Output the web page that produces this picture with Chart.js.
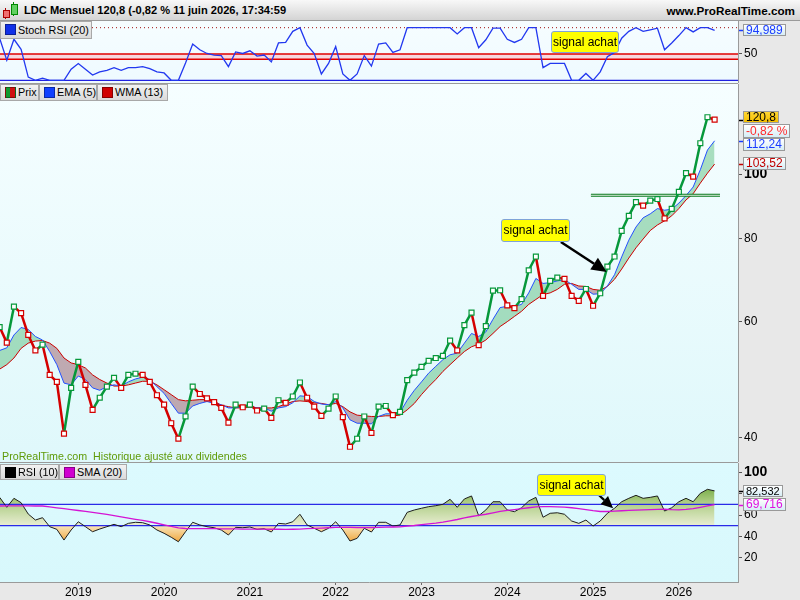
<!DOCTYPE html>
<html><head><meta charset="utf-8">
<script src="https://cdn.jsdelivr.net/npm/chart.js@4/dist/chart.umd.min.js"></script>
<style>
body{margin:0;width:800px;height:600px;position:relative;overflow:hidden;background:#e8e8e8;font-family:"Liberation Sans",Arial,sans-serif;font-size:12px;color:#000;}
canvas{position:absolute;left:0;}
#title{position:absolute;left:0;top:0;width:800px;height:20px;background:linear-gradient(#f8f8f8,#d4d4d4);border-bottom:1px solid #9a9a9a;}
#title .t{position:absolute;left:24px;top:4px;font-weight:bold;font-size:11.1px;}
#title .w{position:absolute;right:5px;top:4px;font-weight:bold;font-size:11.7px;}
.sep{position:absolute;left:0;width:738px;height:1px;background:#9a9a9a;}
.lg{position:absolute;box-sizing:border-box;height:17px;border:1px solid #a8a8a8;background:linear-gradient(#f2f2f2,#dadada);font-size:10.8px;line-height:15px;padding-left:17px;white-space:nowrap;}
.lg i{position:absolute;left:4px;top:2px;width:9px;height:9px;border:1px solid rgba(0,0,0,0.35);}
.sig{position:absolute;box-sizing:border-box;background:#ffff00;border:1px solid #7fa3d8;border-radius:3px;font-size:12px;text-align:center;line-height:20px;}
.vb{position:absolute;left:743px;box-sizing:border-box;border:1px solid #999;background:linear-gradient(#ffffff,#d6edf5);font-size:12px;line-height:10px;padding:0 2px;white-space:nowrap;}
#note{position:absolute;left:2px;top:450px;font-size:10.7px;color:#5f9a08;white-space:nowrap;}
</style></head>
<body>
<div id="title">
  <div style="position:absolute;left:5px;top:8px;width:1px;height:11px;background:#a00;"></div>
  <div style="position:absolute;left:3px;top:10px;width:5px;height:6px;background:#f07070;border:1px solid #a00;"></div>
  <div style="position:absolute;left:13px;top:2px;width:1px;height:14px;background:#080;"></div>
  <div style="position:absolute;left:11px;top:4px;width:5px;height:9px;background:#60d060;border:1px solid #080;"></div>
  <div class="t">LDC Mensuel 120,8 (-0,82 % 11 juin 2026, 17:34:59</div>
  <div class="w">www.ProRealTime.com</div>
</div>
<canvas id="cStoch" width="800" height="62" style="top:21px;width:800px;height:62px;"></canvas>
<div class="sep" style="top:83px;"></div>
<canvas id="cMain" width="800" height="378" style="top:84px;width:800px;height:378px;"></canvas>
<div class="sep" style="top:462px;"></div>
<canvas id="cRsi" width="800" height="137" style="top:463px;width:800px;height:137px;"></canvas>

<div class="lg" style="left:0;top:21px;width:92px;height:18px;line-height:16px;"><i style="background:#1030e8;"></i>Stoch RSI (20)</div>
<div class="lg" style="left:0;top:84px;width:39px;"><i style="background:linear-gradient(90deg,#109a30 50%,#d01010 50%);"></i>Prix</div>
<div class="lg" style="left:39px;top:84px;width:58px;"><i style="background:#1040ff;"></i>EMA (5)</div>
<div class="lg" style="left:97px;top:84px;width:71px;"><i style="background:#d00000;"></i>WMA (13)</div>
<div class="lg" style="left:0;top:464px;width:59px;height:16px;line-height:14px;"><i style="background:#000;"></i>RSI (10)</div>
<div class="lg" style="left:59px;top:464px;width:68px;height:16px;line-height:14px;"><i style="background:#d000d0;"></i>SMA (20)</div>

<div class="sig" style="left:551px;top:31px;width:68px;height:22px;">signal achat</div>
<div class="sig" style="left:501px;top:219px;width:69px;height:23px;">signal achat</div>
<div class="sig" style="left:537px;top:474px;width:69px;height:22px;">signal achat</div>

<div class="vb" style="top:24px;height:12px;color:#1a3cff;">94,989</div>
<div class="vb" style="top:111px;height:12px;background:linear-gradient(#ffd633,#f5c000);">120,8</div>
<div class="vb" style="top:124px;height:14px;line-height:12px;color:#ff2a2a;">-0,82 %</div>
<div class="vb" style="top:138px;height:13px;line-height:11px;color:#1a3cff;">112,24</div>
<div class="vb" style="top:157px;height:13px;line-height:11px;color:#c00000;">103,52</div>
<div class="vb" style="top:485px;height:12px;font-size:11px;">82,532</div>
<div class="vb" style="top:498px;height:13px;line-height:11px;color:#e010e0;">69,716</div>

<div id="note">ProRealTime.com&nbsp; Historique ajusté aux dividendes</div>

<script>
// ---------------- DATA ----------------
const months = [
 '2018-02','2018-03','2018-04','2018-05','2018-06','2018-07','2018-08','2018-09','2018-10','2018-11','2018-12',
 '2019-01','2019-02','2019-03','2019-04','2019-05','2019-06','2019-07','2019-08','2019-09','2019-10','2019-11','2019-12',
 '2020-01','2020-02','2020-03','2020-04','2020-05','2020-06','2020-07','2020-08','2020-09','2020-10','2020-11','2020-12',
 '2021-01','2021-02','2021-03','2021-04','2021-05','2021-06','2021-07','2021-08','2021-09','2021-10','2021-11','2021-12',
 '2022-01','2022-02','2022-03','2022-04','2022-05','2022-06','2022-07','2022-08','2022-09','2022-10','2022-11','2022-12',
 '2023-01','2023-02','2023-03','2023-04','2023-05','2023-06','2023-07','2023-08','2023-09','2023-10','2023-11','2023-12',
 '2024-01','2024-02','2024-03','2024-04','2024-05','2024-06','2024-07','2024-08','2024-09','2024-10','2024-11','2024-12',
 '2025-01','2025-02','2025-03','2025-04','2025-05','2025-06','2025-07','2025-08','2025-09','2025-10','2025-11','2025-12',
 '2026-01','2026-02','2026-03','2026-04','2026-05','2026-06'
];
const price = [
 58.8,55.7,63.1,61.7,57.2,54.2,55.3,49.8,48.6,40.6,47.6,
 52.1,48.1,44.1,46.0,47.8,49.3,47.6,49.8,50.0,49.8,48.6,46.4,
 44.9,42.1,39.9,43.1,47.8,46.6,45.9,45.3,44.4,42.2,44.9,44.5,
 44.9,44.0,44.3,42.9,45.6,45.2,46.2,48.5,46.0,44.6,43.2,44.3,
 46.2,43.0,38.8,39.9,43.1,40.7,44.6,44.7,43.3,43.8,48.9,50.2,
 51.2,52.3,52.8,53.2,56.1,54.2,59.2,61.8,55.2,59.0,66.7,66.8,
 63.4,62.8,64.8,71.6,75.1,65.5,69.0,69.8,69.5,65.5,64.4,67.1,
 63.3,66.1,72.5,75.1,82.1,86.5,90.7,89.6,91.2,91.7,85.7,88.6,
 94.0,100.3,99.1,111.3,121.8,120.8
];
const ema5 = [
 54.2,54.7,57.2,58.7,58.3,56.9,56.2,54.0,51.6,48.4,48.1,
 49.6,49.0,47.6,47.2,47.8,48.1,47.9,48.6,49.1,49.4,49.0,47.8,
 46.7,45.1,43.6,43.6,44.7,45.1,45.4,45.1,44.9,44.4,44.4,44.6,
 44.7,44.4,44.4,43.9,44.4,44.6,45.2,46.3,46.2,45.4,45.0,44.9,
 45.4,44.4,42.6,42.1,42.1,42.0,43.1,43.5,43.5,43.7,45.6,47.2,
 48.6,50.1,51.3,52.5,53.4,53.7,55.6,57.5,56.9,57.8,60.4,62.9,
 63.2,63.2,63.6,66.2,69.6,68.4,68.6,69.0,69.3,68.2,67.0,67.0,
 65.9,66.0,67.8,70.5,75.0,79.5,83.2,85.9,87.1,88.7,88.2,88.5,
 90.4,92.8,95.6,101.5,108.7,112.24
];
const wma13 = [
 50.8,51.6,52.8,54.6,55.6,56.0,56.1,55.6,54.6,52.8,51.9,
 51.6,51.0,49.8,49.0,48.4,47.9,47.9,48.1,48.4,48.7,48.7,48.1,
 47.3,46.5,45.7,45.5,45.6,45.7,45.7,45.5,44.8,44.6,44.4,44.4,
 44.5,44.4,44.4,44.4,44.6,45.0,45.4,45.5,45.4,45.2,45.1,44.9,
 45.1,44.6,43.8,43.3,43.2,43.1,43.1,43.2,43.2,43.3,44.1,45.1,
 46.5,47.8,49.0,50.4,51.6,52.8,54.0,54.9,55.4,56.2,57.5,58.9,
 59.9,61.0,62.1,63.6,64.7,65.8,66.2,67.0,68.2,68.4,67.8,67.7,
 67.0,66.8,67.7,69.4,71.9,74.7,77.4,79.8,82.2,83.8,85.0,86.5,
 88.7,91.4,93.4,96.9,100.3,103.52
];
const stochRsi = [
 80,38,78,59,6,0,4,0,0,0,21,
 32,21,10,16,19,24,19,24,24,26,22,16,
 14,0,0,33,69,58,51,48,47,26,54,51,
 56,46,48,35,71,72,93,100,67,51,12,32,
 64,12,0,12,47,27,69,71,53,58,100,100,
 100,100,100,100,100,88,100,100,62,77,99,99,
 78,72,78,100,100,24,32,32,32,0,0,13,
 0,16,45,53,80,93,100,93,96,99,58,71,
 85,100,92,100,100,94.989
];
const rsi10 = [
 76.5,67.2,75.6,71.5,60.9,55.3,57.5,49.1,46.6,36.6,46.0,
 53.7,49.1,44.4,46.9,49.1,51.3,49.1,52.2,53.2,52.8,50.7,46.0,
 42.9,39.2,35.0,44.4,53.2,50.7,49.1,48.1,46.0,41.3,48.5,48.1,
 48.8,46.6,47.2,44.1,52.2,51.6,53.7,60.7,50.7,47.6,44.4,47.6,
 53.7,46.0,35.7,38.2,47.6,44.1,53.2,53.2,49.7,50.7,62.5,64.7,
 66.3,67.8,68.7,70.0,74.7,67.2,75.0,77.8,59.3,64.7,72.4,72.4,
 64.7,63.1,66.8,73.1,76.5,57.9,61.6,62.1,60.7,54.4,52.2,55.3,
 49.7,54.4,61.6,66.3,72.4,75.6,78.4,75.6,76.5,77.8,63.7,66.8,
 72.4,75.6,72.4,80.3,84.0,82.532
];
const sma20 = [
 68.4,68.5,68.6,68.6,68.5,68.4,68.4,67.6,66.7,65.9,65.0,
 64.2,63.3,62.5,61.6,60.5,59.4,58.2,57.1,56.0,54.9,53.7,52.3,
 50.8,49.4,47.9,47.4,47.3,47.3,47.2,47.2,47.1,47.0,47.0,46.9,
 46.9,46.8,46.8,46.7,46.7,46.6,46.7,46.9,47.2,47.5,47.8,48.1,
 48.4,48.5,48.4,48.3,48.2,48.2,48.4,48.6,48.8,49.0,49.6,50.2,
 51.0,51.7,52.4,53.4,54.6,55.8,57.4,58.6,59.6,60.7,62.0,63.4,
 64.3,65.1,66.0,66.8,67.6,67.8,67.8,67.6,67.4,66.8,65.9,65.0,
 64.0,63.3,63.3,63.6,64.0,64.4,64.6,64.8,65.0,65.3,65.4,65.0,
 64.8,65.2,66.0,67.2,68.5,69.716
];
const tickYears = [2019,2020,2021,2022,2023,2024,2025,2026];
const priceTicks = [40,60,80,100];
const rsiTicks = [20,40,60,80,100];
const stochTicks = [50];
const stochLevels = {top:100, upper:50, lower:40, bottom:0};
const rsiLevels = [70,50];
const resistance = {level:92.9, from:'2025-01', to:'2026-07'};
const lastValues = {price:120.8, ema:112.24, wma:103.52, stoch:94.989, rsi:82.532, sma:69.716};

// ---------------- HELPERS ----------------
const monthIndex = s => { const [y,m] = s.split('-').map(Number); return (y-2019)*12 + (m-1); };
const xIdx = months.map(monthIndex);
const pts = arr => arr.map((v,i)=>({x:xIdx[i], y:v}));
const X_MIN = -10.95, X_MAX = 92.27;
const flat = v => [{x:X_MIN,y:v},{x:X_MAX,y:v}];
const GREEN = '#06983a', RED = '#d40000';

Chart.defaults.font.family = '"Liberation Sans", Arial, sans-serif';
Chart.defaults.font.size = 12;
Chart.defaults.color = '#000';

const noPad = s => { s.paddingTop = 0; s.paddingBottom = 0; s.paddingLeft = 0; s.paddingRight = 0; };

const bgPlugin = (c1,c2) => ({id:'bg', beforeDraw(chart){
  const {ctx, chartArea:a} = chart; ctx.save();
  const g = ctx.createLinearGradient(0,a.top,0,a.bottom); g.addColorStop(0,c1); g.addColorStop(1,c2);
  ctx.fillStyle = g; ctx.fillRect(a.left,a.top,a.right-a.left,a.bottom-a.top); ctx.restore();
}});
const markPlugin = items => ({id:'marks', afterDraw(chart){
  const {ctx, chartArea:a, scales:{y}} = chart;
  items.forEach(it=>{ const py = Math.round(y.getPixelForValue(it.value))+0.5;
    ctx.save(); ctx.strokeStyle = it.color; ctx.lineWidth = 1.5; ctx.beginPath();
    ctx.moveTo(a.right+1,py); ctx.lineTo(a.right+6,py); ctx.stroke(); ctx.restore(); });
}});
const arrowPlugin = items => ({id:'arrows', afterDatasetsDraw(chart){
  const {ctx, scales:{x,y}} = chart;
  items.forEach(a=>{
    const x0=x.getPixelForValue(monthIndex(a.from[0])+a.from[1]), y0=y.getPixelForValue(a.from[2]);
    const x1=x.getPixelForValue(monthIndex(a.to[0])+a.to[1]), y1=y.getPixelForValue(a.to[2]);
    const ang=Math.atan2(y1-y0,x1-x0), L=a.head, W=a.headW;
    const bx=x1-L*Math.cos(ang), by=y1-L*Math.sin(ang);
    ctx.save(); ctx.strokeStyle='#000'; ctx.lineWidth=a.width; ctx.beginPath();
    ctx.moveTo(x0,y0); ctx.lineTo(bx,by); ctx.stroke();
    ctx.fillStyle='#000'; ctx.beginPath(); ctx.moveTo(x1,y1);
    ctx.lineTo(bx+W/2*Math.sin(ang), by-W/2*Math.cos(ang));
    ctx.lineTo(bx-W/2*Math.sin(ang), by+W/2*Math.cos(ang)); ctx.closePath(); ctx.fill(); ctx.restore();
  });
}});

const hiddenX = {type:'linear', min:X_MIN, max:X_MAX, display:false};
const rightY = (extra) => Object.assign({
  position:'right',
  afterFit: s => { s.width = 62; noPad(s); },
  ticks:{padding:2, color:'#000', callback: v => String(v),
    font: c => (c.tick && c.tick.value===100) ? {size:14, weight:'bold'} : {size:12}},
  grid:{drawOnChartArea:false, drawTicks:true, tickLength:4, color:'#555', tickColor:'#555'},
  border:{display:true, color:'#9a9a9a'}
}, extra);
const baseOpts = {responsive:false, animation:false, events:[], layout:{padding:0, autoPadding:false},
  plugins:{legend:{display:false}, tooltip:{enabled:false}, filler:{drawTime:'beforeDatasetsDraw'}}};

// ---------------- STOCH RSI ----------------
new Chart(document.getElementById('cStoch'), {
  type:'line',
  data:{datasets:[
    {data:pts(stochRsi), borderColor:'#2238f0', borderWidth:1.3, pointRadius:0, tension:0, order:0},
    {data:flat(stochLevels.top), borderColor:'#a01010', borderWidth:1, borderDash:[1,3], pointRadius:0, order:1},
    {data:flat(stochLevels.upper), borderColor:'#e00000', borderWidth:1.3, pointRadius:0, fill:{target:3}, backgroundColor:'rgba(255,150,160,0.35)', order:1},
    {data:flat(stochLevels.lower), borderColor:'#e00000', borderWidth:1.3, pointRadius:0, order:1},
    {data:flat(stochLevels.bottom), borderColor:'#2020e0', borderWidth:1.3, pointRadius:0, order:1}
  ]},
  options:Object.assign({}, baseOpts, {scales:{
    x: hiddenX,
    y: rightY({type:'linear', min:-5.13, max:112.7, afterBuildTicks: s => { s.ticks = stochTicks.map(v=>({value:v})); }})
  }}),
  plugins:[bgPlugin('#f6fdff','#eefaff'), markPlugin([{value:lastValues.stoch, color:'#1a3cff'}])]
});

// ---------------- MAIN PRICE ----------------
const resLine = [{x:monthIndex(resistance.from)-0.3,y:resistance.level},{x:monthIndex(resistance.to)-0.25,y:resistance.level}];
new Chart(document.getElementById('cMain'), {
  type:'line',
  data:{datasets:[
    {label:'Prix', data:pts(price), borderColor:GREEN, borderWidth:2.5, tension:0,
     segment:{borderColor: c => c.p1.parsed.y >= c.p0.parsed.y ? GREEN : RED},
     pointStyle:'rect', pointRadius:3.5, pointBorderWidth:1.2, pointBackgroundColor:'#ffffff',
     pointBorderColor: c => (c.dataIndex>0 && price[c.dataIndex] < price[c.dataIndex-1]) ? RED : GREEN, order:0},
    {data:resLine, borderColor:'#ffffff', borderWidth:0.9, pointRadius:0, order:1},
    {data:resLine, borderColor:'#0a7a1e', borderWidth:3, pointRadius:0, order:2},
    {label:'EMA (5)', data:pts(ema5), borderColor:'#2450ff', borderWidth:1, pointRadius:0, tension:0,
     fill:{target:4, above:'rgba(50,170,90,0.38)', below:'rgba(130,40,55,0.38)'}, order:3},
    {label:'WMA (13)', data:pts(wma13), borderColor:'#cc0000', borderWidth:1, pointRadius:0, tension:0, order:4}
  ]},
  options:Object.assign({}, baseOpts, {scales:{
    x: hiddenX,
    y: rightY({type:'logarithmic', min:36.8, max:136.7, afterBuildTicks: s => { s.ticks = priceTicks.map(v=>({value:v})); }})
  }}),
  plugins:[bgPlugin('#f6feff','#dff8fb'),
    markPlugin([{value:lastValues.price, color:'#000'},{value:lastValues.ema, color:'#1a3cff'},{value:lastValues.wma, color:'#c00000'}]),
    arrowPlugin([{from:['2024-08',0.5,79.0], to:['2025-02',0.9,71.2], head:15, headW:14, width:2.5}])]
});

// ---------------- RSI ----------------
const rsiCanvas = document.getElementById('cRsi');
const rctx = rsiCanvas.getContext('2d');
const gGreen = rctx.createLinearGradient(0,18,0,63);
gGreen.addColorStop(0,'#5f9e2c'); gGreen.addColorStop(0.45,'#aacb80'); gGreen.addColorStop(1,'#eaeed4');
const gOrange = rctx.createLinearGradient(0,63,0,82);
gOrange.addColorStop(0,'#f8e4b8'); gOrange.addColorStop(1,'#ee9c28');

new Chart(rsiCanvas, {
  type:'line',
  data:{datasets:[
    {data:pts(sma20), borderColor:'#d414d4', borderWidth:1.3, pointRadius:0, tension:0, order:0},
    {data:pts(rsi10), borderColor:'#1e1e1e', borderWidth:1, pointRadius:0, tension:0,
     fill:{target:{value:50}, above:gGreen, below:gOrange}, order:1},
    {data:flat(rsiLevels[0]), borderColor:'#2a2ae8', borderWidth:1.2, pointRadius:0, order:2},
    {data:flat(rsiLevels[1]), borderColor:'#2a2ae8', borderWidth:1.2, pointRadius:0, order:2}
  ]},
  options:Object.assign({}, baseOpts, {scales:{
    x:{type:'linear', min:X_MIN, max:X_MAX, position:'bottom',
       afterFit: s => { s.height = 18; noPad(s); },
       afterBuildTicks: s => { s.ticks = tickYears.map(y=>({value:(y-2019)*12})); },
       ticks:{padding:0, color:'#000', maxRotation:0, autoSkip:false, font:{size:12}, callback: v => String(2019 + Math.round(v/12))},
       grid:{drawOnChartArea:false, drawTicks:true, tickLength:3, color:'#666', tickColor:'#666'},
       border:{display:true, color:'#9a9a9a'}},
    y: rightY({type:'linear', min:-2.6, max:108.6, afterBuildTicks: s => { s.ticks = rsiTicks.map(v=>({value:v})); }})
  }}),
  plugins:[bgPlugin('#dcfafe','#d8f8fc'),
    markPlugin([{value:lastValues.rsi, color:'#000'},{value:lastValues.sma, color:'#e010e0'}]),
    arrowPlugin([{from:['2025-01',0.8,78.7], to:['2025-03',0.8,66.3], head:12, headW:11, width:2.2}])]
});
</script>
</body></html>
